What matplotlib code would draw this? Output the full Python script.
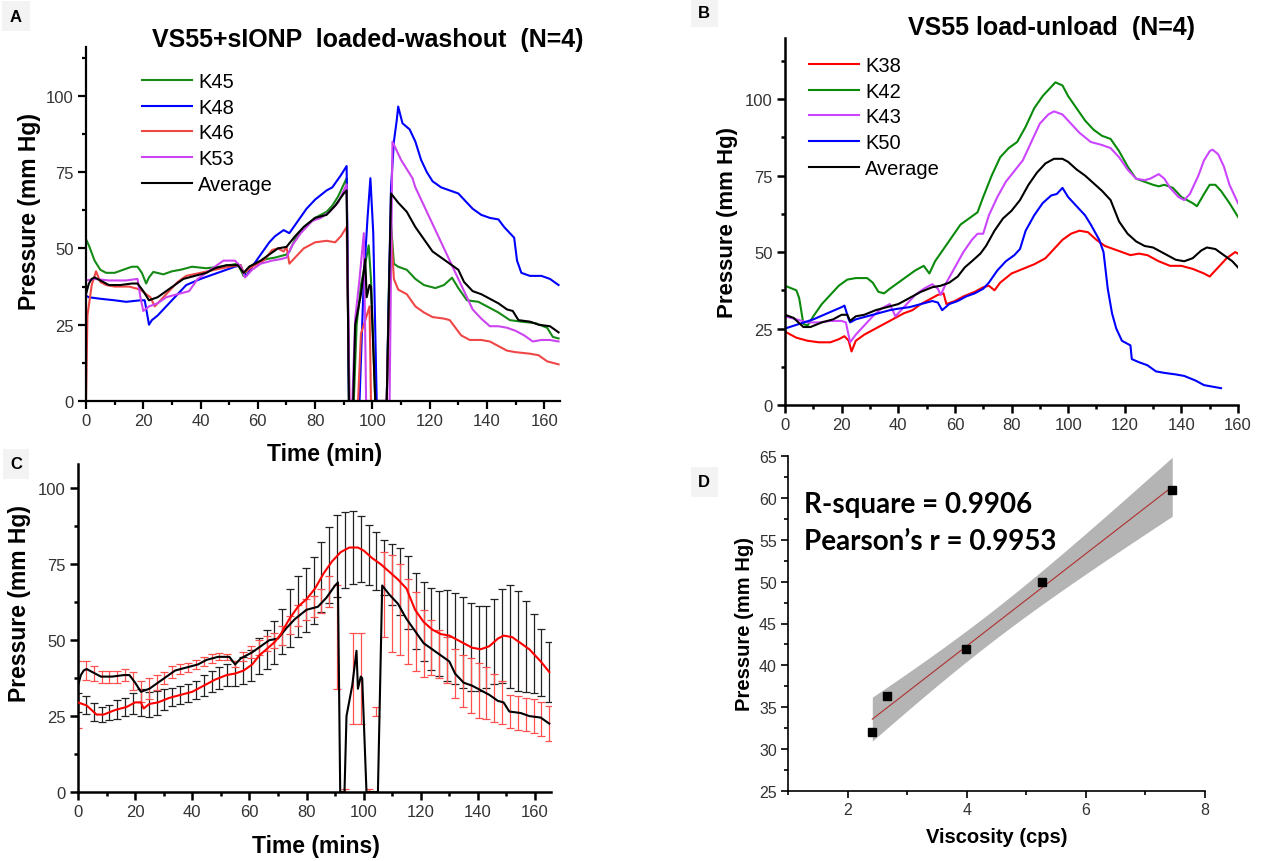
import numpy as np
import matplotlib.pyplot as plt
from matplotlib.ticker import MultipleLocator

plt.rcParams['font.family'] = ['Liberation Sans', 'DejaVu Sans']

W, H = 1266, 862

# ---------------- Panel A: VS55+sIONP loaded-washout ----------------
tA_k45 = [0, 1, 3, 5, 7, 10, 13, 16, 18, 19.5, 21, 22, 23.5, 27, 30, 33, 37, 42, 47, 50, 53, 55, 57, 60,
          63, 66, 70, 71, 73, 76, 80, 84, 86, 88, 90, 91, 91.8, 93.5, 94.5, 96, 97.5, 98.7, 99.5, 101,
          105, 105.8, 106.5, 107.5, 109, 112, 115, 118, 122, 125, 127.8, 130, 133, 137, 140, 144, 148,
          152, 157, 161, 163, 165]
vA_k45 = [53, 51, 46, 43, 42, 42, 43, 44, 44, 42, 38.5, 40.5, 42.3, 41.5, 42.5, 43, 44, 43.5, 44, 44.5,
          45, 41, 44, 45.5, 46.5, 47, 48, 49, 53, 57, 60, 62, 64, 67, 71, 73, 0, 0, 25, 38, 45, 51, 40,
          0, 0, 40, 58, 45, 44, 43, 40, 38, 37, 38, 40.4, 37, 33, 32.5, 31, 29, 26.5, 26, 25.5, 24, 21,
          20.5]

tA_k48 = [0, 1, 5, 10, 14, 19, 20.5, 22, 23, 25, 28, 32, 35, 40, 43, 46, 49, 52, 54, 55, 56, 58, 61, 64,
          66, 69, 71, 74, 77, 80, 84, 86, 89, 91, 91.8, 95.5, 97, 98.3, 99.3, 100.3, 101.5, 105, 106.5,
          107.5, 108.5, 109, 110.5, 113, 115, 117, 119, 121, 124, 127, 130, 132, 135, 138, 141, 144,
          146, 148, 149.5, 150.5, 152, 155, 159, 162, 165]
vA_k48 = [34.5, 34, 33.5, 33, 32.5, 33, 33, 25, 26.5, 28, 31, 35, 38, 40, 41, 42, 43, 44, 44.5, 42, 41,
          44, 48, 52, 54, 56, 55, 59, 63, 66, 69, 70, 74, 77, 0, 0, 40, 60, 73, 55, 0, 0, 70, 85, 92,
          96.5, 91, 89, 85, 79, 75, 72, 70, 69, 68, 66, 63, 61, 60, 59.5, 57, 55, 53.5, 46, 42, 41, 41,
          40, 38]

tA_k46 = [0, 0.5, 2, 3.5, 5, 7, 10, 15, 19, 21, 22.5, 24, 26, 29, 32, 35, 40, 45, 50, 54, 55, 56, 58, 62,
          65, 67, 69, 70, 71, 73, 76, 80, 84, 87, 89, 91, 92, 95, 96, 97, 98, 99, 99.5, 105, 106.5,
          107.5, 109, 112, 115, 118, 121, 125, 127, 129, 131, 134, 138, 141, 144, 147, 150, 155, 158,
          161, 165]
vA_k46 = [0, 28, 38, 42.5, 39, 38, 37.5, 37.5, 36.5, 35, 34, 31, 33, 36, 39, 41, 42, 43, 44, 44.5, 42,
          42.5, 44, 46, 49.5, 50, 49, 50.5, 45, 47, 50, 52, 52.5, 52, 54, 57, 0, 0, 22, 25, 28, 31, 0, 0,
          56, 40, 36.5, 35, 31, 29, 27.5, 27, 26.5, 24, 21.5, 20, 20, 19.5, 18, 16.5, 16, 15.5, 15, 13, 12]

tA_k53 = [0, 3, 8, 14, 18, 19, 20, 22, 25, 28, 32, 36, 39, 42, 45, 48, 52, 54, 55.5, 58, 61, 65, 68, 70,
          72, 75, 79, 82, 85, 88, 90, 91, 92, 93, 94, 95.5, 97, 97.8, 106, 107, 108.5, 110, 112, 114,
          115, 118, 120, 123, 126, 129, 131, 133, 135, 138, 141, 144, 147, 150, 153, 156, 159, 162, 165]
vA_k53 = [39.5, 40, 39.5, 39.5, 40, 34, 29.5, 31, 32, 34, 35, 36, 40, 42, 44, 46, 46, 44, 40.5, 43, 45,
          46, 46.5, 47, 51, 55, 59, 60, 62, 65, 69, 71, 0, 0, 27, 40, 55, 0, 0, 85, 82, 79, 76, 73, 70,
          64, 60, 54, 48, 42, 38, 34, 30, 27, 24.5, 24.5, 24, 23, 21.5, 19.5, 20, 20, 19.5]

tA_avg = [0, 1, 2, 3, 5, 8, 12, 16, 18, 20, 22, 25, 28, 31, 34, 38, 42, 45, 49, 53, 55, 57, 61, 64, 67,
          70, 73, 76, 80, 84, 87, 90, 91, 91.8, 93.3, 94, 96, 97.5, 98, 99, 99.5, 101, 105, 106.5, 109,
          112, 115, 118, 121, 124, 127, 130, 132, 135, 138, 141, 144, 147, 149, 151, 155, 158, 162, 165]
vA_avg = [35, 38.5, 40, 40.5, 39.5, 38, 38, 38.5, 38.5, 36, 33, 34, 36, 38, 40, 41, 42, 43.5, 44.5,
          44.5, 42, 44, 46, 48, 50, 50.5, 54, 57, 60, 61, 64, 68, 69, 0, 0, 25, 35, 46.5, 34, 38, 37.5,
          0, 0, 68, 65, 62, 57, 53, 49, 47, 45, 43, 39, 36, 35, 33.5, 32, 30, 29.5, 26.5, 26, 25, 24.5,
          22.5]

# ---------------- Panel B: VS55 load-unload ----------------
tB_k38 = [0, 4, 8, 12, 16, 19, 21, 22.5, 23.5, 25, 28, 32, 36, 39, 42, 45, 48, 51, 54, 56, 57, 60, 63,
          67, 70, 72, 74, 76, 80, 84, 88, 92, 95, 98, 101, 104, 107, 110, 113, 116, 119, 122, 125, 128,
          132, 136, 140, 144, 148, 150, 153, 156, 159, 160]
vB_k38 = [24, 22, 21, 20.5, 20.5, 21.5, 22.5, 21, 17.5, 21, 23, 25, 27, 28.5, 30, 31, 33, 34.5, 36,
          36.5, 33, 34, 35.5, 37, 38.5, 39, 37.5, 40, 43, 44.5, 46, 48, 51, 54, 56, 57, 56.5, 54, 52, 51,
          50, 49, 49.5, 49, 47, 45.5, 45.5, 44.5, 43, 42, 45, 48, 50, 49.5]

tB_k42 = [0, 4, 5, 6.5, 8, 10, 13, 16, 19, 22, 25, 29, 31, 33, 35, 37, 40, 43, 46, 49, 51, 53, 56, 59,
          62, 65, 68, 70, 73, 76, 79, 82, 85, 88, 91, 94, 95.5, 98, 100, 103, 106, 109, 112, 115, 118,
          121, 124, 127, 130, 132, 134, 137, 140, 144, 145.5, 148, 150, 152, 154, 157, 160]
vB_k42 = [39, 37.5, 35, 26.5, 26, 29, 33, 36, 39, 41, 41.5, 41.5, 40, 37, 36.5, 38, 40, 42, 44, 45.5,
          43, 47, 51, 55, 59, 61, 63, 68, 75, 81, 84, 86, 91, 97, 101, 104, 105.5, 104.5, 101, 97, 93,
          90, 88, 87, 83, 78, 74, 73, 72, 71.5, 72, 71, 68, 66, 65, 69, 72, 72, 70, 66, 61.5]

tB_k43 = [0, 4, 8, 12, 16, 20, 21.5, 23, 25, 28, 31, 34, 37, 39, 40, 43, 46, 49, 52, 54, 55, 57, 60, 63,
          66, 68, 70, 72, 75, 78, 81, 84, 87, 90, 93, 95, 98, 101, 104, 108, 112, 115, 118, 121, 124,
          127, 129, 132, 134, 136, 139, 141, 143, 146, 148, 150, 151, 153, 155, 157, 159, 160]
vB_k43 = [29, 28, 27, 27, 27.5, 27.5, 27, 20.5, 23, 26, 29, 31.5, 33, 29, 30, 33, 36, 38, 39.5, 38, 36,
          40, 45, 50, 54, 56, 56, 62, 68, 73, 76.5, 80, 86, 92, 95, 96, 95, 92, 89, 86, 85, 84, 81, 77,
          74, 73.5, 74, 75.5, 74, 71, 68, 67, 69, 75, 80, 83, 83.5, 82, 78, 72, 68, 66]

tB_k50 = [0, 5, 10, 15, 20, 21, 22.5, 23, 25, 29, 33, 37, 40, 44, 48, 52, 54, 55.5, 58, 61, 64, 67, 70,
          72, 75, 78, 81, 83, 85, 88, 91, 94, 96, 98, 100, 103, 106, 108, 111, 112.5, 114, 115.5, 117,
          119, 121, 122, 122.5, 125, 128, 131, 134, 138, 141, 145, 148, 151, 154]
vB_k50 = [25, 26.5, 28, 30, 32, 32.5, 28, 27, 28, 29, 30, 31, 31.5, 32, 33, 34, 33.5, 31, 33, 34, 35.5,
          36.5, 38, 40, 44, 47, 49, 51, 57, 62, 66, 68.5, 69, 71, 68, 65, 62, 59, 54, 50, 38, 30, 25, 21,
          20, 19.5, 15, 14, 13, 11, 10.5, 10, 9.5, 8, 6.5, 6, 5.5]

tB_avg = [0, 3, 6.5, 9, 13, 17, 20, 22, 23, 25, 28, 32, 36, 40, 44, 48, 52, 55, 58, 61, 63.5, 66, 69,
          71, 74, 77, 80, 83, 86, 89, 92, 95, 98, 100, 103, 106, 109, 112, 115, 118, 121, 124, 127, 130,
          133, 136, 138, 141, 144, 147, 149, 152, 155, 158, 160, 162, 165]
vB_avg = [29.5, 28.5, 25.5, 25.5, 27, 28, 29.5, 29.5, 27.5, 29, 29.5, 31, 32, 33, 35, 37, 38.5, 39, 40,
          42, 45, 47, 49.5, 52, 57, 61, 63.5, 67, 72, 76, 79, 80.5, 80.5, 79.5, 77, 75, 72.5, 70, 67,
          60, 56, 53.5, 52, 51.5, 50, 48.5, 47.5, 47, 48, 50.5, 51.5, 51, 49, 47, 45, 43, 39.5]

# ---------------- Panel C: error bars ----------------
t_err = [0, 2.75, 5.5, 8.25, 11, 13.75, 16.5, 19.25, 22, 24.75, 27.5, 30.25, 33, 35.75, 38.5, 41.25,
         44, 46.75, 49.5, 52.25, 55, 57.75, 60.5, 63.25, 66, 68.75, 71.5, 74.25, 77, 79.75, 82.5,
         85.25, 88, 90.75, 93.5, 96.25, 99, 101.75, 104.5, 107.25, 110, 112.75, 115.5, 118.25, 121,
         123.75, 126.5, 129.25, 132, 134.75, 137.5, 140.25, 143, 145.75, 148.5, 151.25, 154, 156.75,
         159.5, 162.25, 165]
# SD of load-unload average (black bars on the red curve)
sd_unload = [3, 3, 3, 2.5, 2.5, 3, 3, 3.5, 4.5, 4, 4, 3.5, 3, 3, 3, 3, 3.5, 3.5, 3.5, 3.5, 4, 4.5, 5,
             6, 6.5, 7, 7.5, 9.5, 10, 10.5, 11, 11.5, 12.5, 13.5, 12.5, 12, 11, 10, 9.5, 9, 10, 11, 12,
             12.5, 13, 13.5, 14, 15, 15, 15, 14.5, 14, 13.5, 14, 15.5, 17, 16.5, 15, 13, 11, 10]
# mean / SD of loaded-washout (red bars on the black curve)
mean_wash = [32, 40, 39, 38, 38, 38, 38.5, 36.5, 33, 34, 36, 37.5, 39.5, 40.5, 41, 42, 43, 44, 44.5,
             44.5, 42, 44.5, 46, 47.5, 49, 50, 51.5, 55, 58, 60, 61, 63, 66, 51, 0.5, 37.5, 37.5, 0.5,
             26.5, 65, 62, 60, 56, 53, 49, 47.5, 45.5, 43.5, 39, 36.5, 35, 33.5, 32.5, 31, 29.5, 26.5,
             26, 25.5, 25, 24, 22.5]
sd_wash = [11, 3, 2.5, 2, 2, 2, 2, 3, 3.5, 3.5, 2.5, 2, 2, 1.5, 1.5, 1.5, 1.5, 1.5, 1.2, 1, 1, 1.5, 2,
           2.5, 2.5, 2.5, 3, 3, 3.5, 3.5, 3.5, 4, 5, 17, 0.5, 15, 15, 0.5, 1.5, 14, 16, 15, 14, 13, 11,
           9, 8, 7.5, 8, 8.5, 9, 9, 8.5, 8, 7, 5.5, 5.5, 5.5, 5.5, 5.5, 5.7]

# ---------------- Panel D: correlation ----------------
visc = [2.415, 2.66, 3.98, 5.27, 7.45]
pres = [32.1, 36.4, 41.95, 49.9, 61.0]


def box(l, t, r, b):
    return [l / W, 1 - b / H, (r - l) / W, (b - t) / H]


def ftext(x, y, s, **kw):
    fig.text(x / W, 1 - y / H, s, ha=kw.pop('ha', 'center'), va=kw.pop('va', 'center'), **kw)


def style(ax, xmaj, xmin, ymaj, ymin, lw=1.6, size=12, major=6, minor=3):
    for s in ('top', 'right'):
        ax.spines[s].set_visible(False)
    for s in ('left', 'bottom'):
        ax.spines[s].set_linewidth(lw)
    ax.xaxis.set_major_locator(MultipleLocator(xmaj))
    ax.xaxis.set_minor_locator(MultipleLocator(xmin))
    ax.yaxis.set_major_locator(MultipleLocator(ymaj))
    ax.yaxis.set_minor_locator(MultipleLocator(ymin))
    ax.tick_params(which='both', direction='out', width=lw, labelcolor='#333333',
                   labelsize=size, pad=3)
    ax.tick_params(which='major', length=major)
    ax.tick_params(which='minor', length=minor)


def panel_letter(x, y, s):
    ftext(x, y, s, fontsize=12, fontweight='bold',
          bbox=dict(boxstyle='square,pad=0.45', facecolor='#f3f3f3', edgecolor='none'))


fig = plt.figure(figsize=(W / 100, H / 100), dpi=100)
LW = 1.5
leg_kw = dict(bbox_transform=fig.transFigure, loc='upper left', frameon=False, fontsize=14.5,
              handlelength=2.5, handletextpad=0.3, labelspacing=0.33, borderpad=0, borderaxespad=0)

# ---- A ----
axA = fig.add_axes(box(86, 48, 560, 402))
axA.plot(tA_k45, vA_k45, color='#168a16', lw=LW, label='K45')
axA.plot(tA_k48, vA_k48, color='#0000ff', lw=LW, label='K48')
axA.plot(tA_k46, vA_k46, color='#f04646', lw=LW, label='K46')
axA.plot(tA_k53, vA_k53, color='#cc44f0', lw=LW, label='K53')
axA.plot(tA_avg, vA_avg, color='black', lw=LW, label='Average')
axA.set_xlim(0, 165.5)
axA.set_ylim(0, 116)
style(axA, 20, 10, 25, 12.5)
axA.legend(bbox_to_anchor=(142 / W, 1 - 73 / H), **leg_kw)
ftext(368, 40, 'VS55+sIONP  loaded-washout  (N=4)', fontsize=18, fontweight='bold')
ftext(30, 212, 'Pressure (mm Hg)', fontsize=16.5, fontweight='bold', rotation=90)
ftext(325, 455, 'Time (min)', fontsize=16.5, fontweight='bold')
panel_letter(16, 17, 'A')

# ---- B ----
axB = fig.add_axes(box(785, 39, 1238, 406))
axB.plot(tB_k38, vB_k38, color='#ff0000', lw=LW, label='K38')
axB.plot(tB_k42, vB_k42, color='#0a8a0a', lw=LW, label='K42')
axB.plot(tB_k43, vB_k43, color='#cc44ff', lw=LW, label='K43')
axB.plot(tB_k50, vB_k50, color='#0000ff', lw=LW, label='K50')
axB.plot(tB_avg, vB_avg, color='black', lw=LW, label='Average')
axB.set_xlim(0, 160)
axB.set_ylim(0, 120)
style(axB, 20, 10, 25, 12.5, lw=1.8)
axB.legend(bbox_to_anchor=(809 / W, 1 - 57 / H), **leg_kw)
ftext(1052, 28, 'VS55 load-unload  (N=4)', fontsize=18, fontweight='bold')
ftext(728, 222, 'Pressure (mm Hg)', fontsize=16, fontweight='bold', rotation=90)
panel_letter(704, 13, 'B')

# ---- C ----
axC = fig.add_axes(box(78, 465, 551, 793))
axC.plot(tA_avg, vA_avg, color='black', lw=LW, zorder=3)
axC.plot(tB_avg, vB_avg, color='#ff0000', lw=LW, zorder=3)
c_unload = np.interp(t_err, tB_avg, vB_avg)
axC.errorbar(t_err, c_unload, yerr=sd_unload, fmt='none', ecolor='#222222', elinewidth=0.9,
             capsize=3, capthick=0.9, zorder=2)
axC.errorbar(t_err, mean_wash, yerr=sd_wash, fmt='none', ecolor='#ff5050', elinewidth=0.9,
             capsize=3, capthick=0.9, zorder=2)
axC.set_xlim(0, 165.6)
axC.set_ylim(0, 108)
style(axC, 20, 10, 25, 12.5, lw=1.8)
ftext(20, 604, 'Pressure (mm Hg)', fontsize=16.5, fontweight='bold', rotation=90)
ftext(316, 847, 'Time (mins)', fontsize=16.5, fontweight='bold')
panel_letter(16, 465, 'C')

# ---- D ----
axD = fig.add_axes(box(788, 457, 1205, 792))
x = np.array(visc)
y = np.array(pres)
slope, icpt = np.polyfit(x, y, 1)
n = len(x)
resid = y - (slope * x + icpt)
s_err = np.sqrt(np.sum(resid ** 2) / (n - 2))
t_crit = 3.182  # t(0.975, df=3)
xs = np.linspace(x.min(), x.max(), 100)
fit = slope * xs + icpt
half = t_crit * s_err * np.sqrt(1 / n + (xs - x.mean()) ** 2 / np.sum((x - x.mean()) ** 2))
axD.fill_between(xs, fit - half, fit + half, color='#b4b4b4', lw=0, zorder=1)
axD.plot(xs, fit, color='#b03030', lw=0.8, zorder=2)
axD.plot(x, y, 's', color='black', markersize=6, zorder=3)
axD.set_xlim(1, 8)
axD.set_ylim(25, 65)
style(axD, 2, 1, 5, 2.5, lw=1.2, size=11.5, major=5, minor=3)
ftext(804, 505, 'R-square = 0.9906', fontsize=20, fontweight='bold', family=['Lato', 'DejaVu Sans'],
      ha='left')
ftext(804, 542, 'Pearson\u2019s r = 0.9953', fontsize=20, fontweight='bold',
      family=['Lato', 'DejaVu Sans'], ha='left')
ftext(744, 624, 'Pressure (mm Hg)', fontsize=14.5, fontweight='bold', rotation=90)
ftext(997, 838, 'Viscosity (cps)', fontsize=14.5, fontweight='bold')
panel_letter(704, 483, 'D')

fig.savefig('out.png', dpi=100)
